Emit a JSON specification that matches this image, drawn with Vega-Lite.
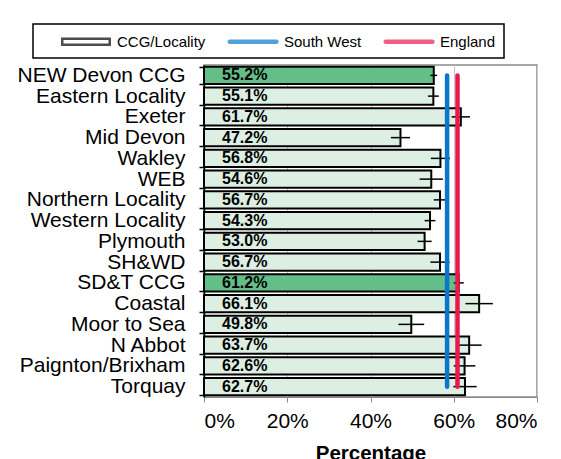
{
  "$schema": "https://vega.github.io/schema/vega-lite/v6.json",
  "width": 333,
  "height": 332,
  "autosize": {"type": "none"},
  "padding": {"left": 204, "top": 65, "right": 24, "bottom": 62},
  "background": "white",
  "config": {
    "font": "Liberation Sans",
    "view": {"stroke": "#8C8C8C", "strokeWidth": 1.5},
    "legend": {"strokeWidth": 1.5}
  },
  "data": {
    "values": [
      {"name": "NEW Devon CCG", "value": 0.552, "lo": 0.544, "hi": 0.560, "ccg": true},
      {"name": "Eastern Locality", "value": 0.551, "lo": 0.538, "hi": 0.564, "ccg": false},
      {"name": "Exeter", "value": 0.617, "lo": 0.595, "hi": 0.639, "ccg": false},
      {"name": "Mid Devon", "value": 0.472, "lo": 0.449, "hi": 0.495, "ccg": false},
      {"name": "Wakley", "value": 0.568, "lo": 0.545, "hi": 0.591, "ccg": false},
      {"name": "WEB", "value": 0.546, "lo": 0.518, "hi": 0.574, "ccg": false},
      {"name": "Northern Locality", "value": 0.567, "lo": 0.552, "hi": 0.582, "ccg": false},
      {"name": "Western Locality", "value": 0.543, "lo": 0.530, "hi": 0.556, "ccg": false},
      {"name": "Plymouth", "value": 0.530, "lo": 0.513, "hi": 0.547, "ccg": false},
      {"name": "SH&WD", "value": 0.567, "lo": 0.544, "hi": 0.590, "ccg": false},
      {"name": "SD&T CCG", "value": 0.612, "lo": 0.600, "hi": 0.624, "ccg": true},
      {"name": "Coastal", "value": 0.661, "lo": 0.628, "hi": 0.694, "ccg": false},
      {"name": "Moor to Sea", "value": 0.498, "lo": 0.467, "hi": 0.529, "ccg": false},
      {"name": "N Abbot", "value": 0.637, "lo": 0.607, "hi": 0.667, "ccg": false},
      {"name": "Paignton/Brixham", "value": 0.626, "lo": 0.600, "hi": 0.652, "ccg": false},
      {"name": "Torquay", "value": 0.627, "lo": 0.599, "hi": 0.655, "ccg": false}
    ]
  },
  "layer": [
    {
      "mark": {"type": "bar", "stroke": "black", "strokeWidth": 2},
      "encoding": {
        "y": {
          "field": "name", "type": "nominal",
          "scale": {
            "domain": ["NEW Devon CCG", "Eastern Locality", "Exeter", "Mid Devon", "Wakley", "WEB", "Northern Locality", "Western Locality", "Plymouth", "SH&WD", "SD&T CCG", "Coastal", "Moor to Sea", "N Abbot", "Paignton/Brixham", "Torquay"],
            "paddingInner": 0.18, "paddingOuter": 0.09
          },
          "axis": {
            "title": null, "labelFontSize": 21, "labelColor": "black", "tickBand": "extent",
            "tickSize": 5, "tickColor": "black", "tickWidth": 1.5, "domainColor": "black",
            "domainWidth": 1.5, "labelPadding": 14, "grid": false, "labelLimit": 300
          }
        },
        "x": {
          "field": "value", "type": "quantitative",
          "scale": {"domain": [0, 0.8]},
          "axis": {
            "title": "Percentage", "titleFontSize": 20.5, "titleFontWeight": "bold", "titleColor": "black",
            "titlePadding": 12, "format": "%", "values": [0, 0.2, 0.4, 0.6, 0.8],
            "labelFontSize": 21, "labelColor": "black", "tickSize": 5, "tickColor": "#888888",
            "domainColor": "#888888", "labelPadding": 8, "grid": true, "gridColor": "#C8C8C8", "gridWidth": 1
          }
        },
        "fill": {"condition": {"test": "datum.ccg", "value": "#63BE87"}, "value": "#DDEFE3"}
      }
    },
    {
      "mark": {"type": "rule", "color": "black", "strokeWidth": 1.5},
      "encoding": {
        "y": {"field": "name", "type": "nominal"},
        "x": {"field": "lo", "type": "quantitative"},
        "x2": {"field": "hi"}
      }
    },
    {
      "data": {
        "values": [
          {"series": "South West", "name": "NEW Devon CCG", "value": 0.584},
          {"series": "South West", "name": "Torquay", "value": 0.584},
          {"series": "England", "name": "NEW Devon CCG", "value": 0.609},
          {"series": "England", "name": "Torquay", "value": 0.609}
        ]
      },
      "mark": {"type": "line", "strokeWidth": 4.5, "strokeCap": "round"},
      "encoding": {
        "y": {"field": "name", "type": "nominal"},
        "x": {"field": "value", "type": "quantitative"},
        "detail": {"field": "series"},
        "stroke": {"condition": {"test": "datum.series === 'South West'", "value": "#0B77C8"}, "value": "#E8194F"}
      }
    },
    {
      "mark": {"type": "text", "align": "left", "dx": 18, "fontWeight": "bold", "fontSize": 16, "color": "black", "baseline": "middle"},
      "encoding": {
        "y": {"field": "name", "type": "nominal"},
        "x": {"datum": 0, "type": "quantitative"},
        "text": {"field": "value", "type": "quantitative", "format": ".1%"}
      }
    },
    {
      "data": {"values": [{"series": "CCG/Locality", "value": -1}, {"series": "South West", "value": -1}, {"series": "England", "value": -1}]},
      "mark": {"type": "point", "filled": true, "strokeWidth": 0, "clip": true},
      "encoding": {
        "x": {"field": "value", "type": "quantitative"},
        "shape": {
          "field": "series", "type": "nominal",
          "scale": {
            "domain": ["CCG/Locality", "South West", "England"],
            "range": ["M-1,-0.5H4.88V0.5H-1Z M-0.706,-0.206V0.206H4.586V-0.206Z", "M-0.8,-0.26H4.7A0.26,0.26 0 0 1 4.7,0.26H-0.8A0.26,0.26 0 0 1 -0.8,-0.26Z", "M-0.8,-0.26H4.7A0.26,0.26 0 0 1 4.7,0.26H-0.8A0.26,0.26 0 0 1 -0.8,-0.26Z"]
          },
          "legend": {
            "orient": "none", "legendX": -171, "legendY": -41, "direction": "horizontal",
            "title": null, "strokeColor": "black", "padding": 8, "fillColor": "white",
            "symbolSize": 289, "symbolOffset": 19, "labelFontSize": 15, "labelFont": "Liberation Sans",
            "labelColor": "black", "labelOffset": 38, "columnPadding": 2,
            "labelExpr": "datum.label === 'England' ? datum.label + '\u00a0\u00a0\u00a0\u00a0\u00a0\u00a0\u00a0\u00a0\u00a0\u00a0\u00a0\u00a0' : datum.label"
          }
        },
        "color": {
          "field": "series", "type": "nominal",
          "scale": {"domain": ["CCG/Locality", "South West", "England"], "range": ["#000000", "#0B77C8", "#E8194F"]},
          "legend": {
            "orient": "none", "legendX": -171, "legendY": -41, "direction": "horizontal",
            "title": null, "strokeColor": "black", "padding": 8, "fillColor": "white",
            "symbolSize": 289, "symbolOffset": 19, "labelFontSize": 15, "labelFont": "Liberation Sans",
            "labelColor": "black", "labelOffset": 38, "columnPadding": 2,
            "labelExpr": "datum.label === 'England' ? datum.label + '\u00a0\u00a0\u00a0\u00a0\u00a0\u00a0\u00a0\u00a0\u00a0\u00a0\u00a0\u00a0' : datum.label"
          }
        }
      }
    }
  ]
}
